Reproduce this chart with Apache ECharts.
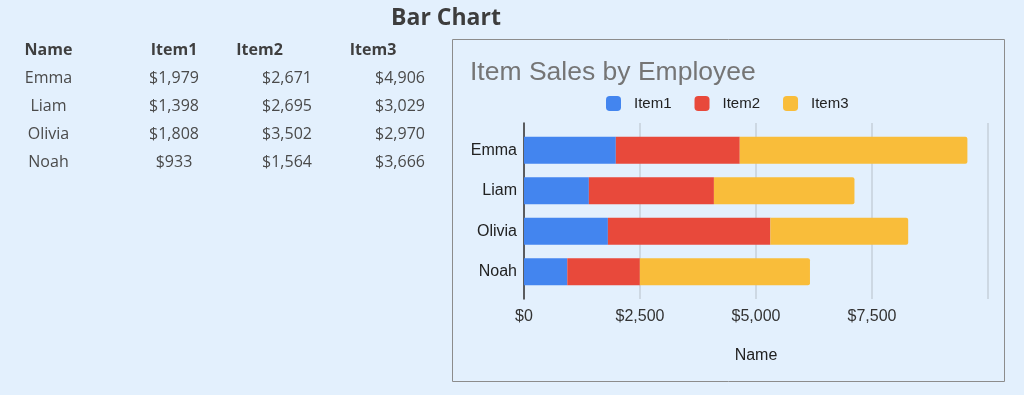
<!DOCTYPE html>
<html>
<head>
<meta charset="utf-8">
<script src="https://cdn.jsdelivr.net/npm/echarts@6/dist/echarts.min.js"></script>
<style>
html,body{margin:0;padding:0;background:#e3f0fd;}
#main{width:1024px;height:395px;}
</style>
</head>
<body>
<div id="main"></div>
<script>
// ---- data ----
const pageTitle = 'Bar Chart';
const chartTitle = 'Item Sales by Employee';
const categories = ['Emma', 'Liam', 'Olivia', 'Noah'];
const seriesNames = ['Item1', 'Item2', 'Item3'];
const item1 = [1979, 1398, 1808, 933];
const item2 = [2671, 2695, 3502, 1564];
const item3 = [4906, 3029, 2970, 3666];
const tableHeaders = ['Name', 'Item1', 'Item2', 'Item3'];
const axisTitle = 'Name';
const xMin = 0, xMax = 10000, xStep = 2500;

// ---- styles ----
const colors = ['#4385ef', '#e8493b', '#f9bd3a'];
const fmt = v => '$' + Number(v).toLocaleString('en-US');

const headerX = [48.5, 174, 259.5, 373];
const valueX = [48.5, 174, 287, 400];
const headerY = 50;
const rowY0 = 78.8, rowStep = 28;

const graphics = [];
graphics.push({
  type: 'text',
  style: { text: pageTitle, x: 446, y: 18.5, fill: '#3d3d3d',
    font: 'bold 23px "Open Sans"', align: 'center', verticalAlign: 'middle',
    textAlign: 'center', textVerticalAlign: 'middle' }
});
tableHeaders.forEach((h, i) => {
  graphics.push({
    type: 'text',
    style: { text: h, x: headerX[i], y: headerY, fill: '#3f3f3f',
      font: 'bold 16px "Open Sans"', align: 'center', verticalAlign: 'middle',
      textAlign: 'center', textVerticalAlign: 'middle' }
  });
});
const cols = [categories, item1.map(fmt), item2.map(fmt), item3.map(fmt)];
categories.forEach((c, r) => {
  cols.forEach((col, i) => {
    graphics.push({
      type: 'text',
      style: { text: col[r], x: valueX[i], y: rowY0 + r * rowStep, fill: '#4a4a4a',
        font: '16px "Open Sans"', align: 'center', verticalAlign: 'middle',
        textAlign: 'center', textVerticalAlign: 'middle' }
    });
  });
});
graphics.push({
  type: 'rect',
  shape: { x: 452.5, y: 39.5, width: 552, height: 342 },
  style: { fill: 'none', stroke: '#8c8c8c', lineWidth: 1 },
  z: 0
});

const chart = echarts.init(document.getElementById('main'), null, { renderer: 'canvas' });
const seriesData = [item1, item2, item3];
chart.setOption({
  backgroundColor: '#e3f0fd',
  animation: false,
  title: {
    text: chartTitle, left: 470, top: 59, padding: 0,
    textStyle: { fontFamily: 'Liberation Sans, Arial', fontSize: 26.5, fontWeight: 'normal', color: '#757575' }
  },
  legend: {
    data: seriesNames, left: 606, top: 96, padding: 0,
    itemWidth: 15, itemHeight: 15, itemGap: 23, icon: 'roundRect',
    textStyle: { fontFamily: 'Liberation Sans, Arial', fontSize: 15, color: '#222', padding: [0, 0, 0, 8] }
  },
  graphic: graphics,
  grid: [
    { left: 524, right: 36, top: 123, bottom: 96 },
    { left: 524, right: 36, top: 130, bottom: 103 }
  ],
  xAxis: [
    {
      gridIndex: 0, type: 'value', min: xMin, max: xMax, interval: xStep,
      axisLine: { show: false }, axisTick: { show: false },
      splitLine: { show: true, lineStyle: { color: '#c6d0da', width: 1.5 } },
      axisLabel: {
        margin: 10, fontFamily: 'Liberation Sans, Arial', fontSize: 16, color: '#333',
        formatter: v => v >= xMax ? '' : fmt(v)
      },
      name: axisTitle, nameLocation: 'middle', nameGap: 49,
      nameTextStyle: { fontFamily: 'Liberation Sans, Arial', fontSize: 16, color: '#222' }
    },
    { gridIndex: 1, type: 'value', min: xMin, max: xMax, show: false }
  ],
  yAxis: [
    {
      gridIndex: 0, type: 'category', data: categories, inverse: true,
      axisLine: { show: true, lineStyle: { color: '#333', width: 1.5 } },
      axisTick: { show: false }, axisLabel: { show: false }
    },
    {
      gridIndex: 1, type: 'category', data: categories, inverse: true,
      axisLine: { show: false }, axisTick: { show: false },
      axisLabel: { margin: 7, fontFamily: 'Liberation Sans, Arial', fontSize: 16, color: '#222' }
    }
  ],
  series: seriesNames.map((n, i) => ({
    name: n, type: 'bar', stack: 'total', xAxisIndex: 1, yAxisIndex: 1,
    barWidth: 27, data: seriesData[i],
    itemStyle: { color: colors[i], borderRadius: i === 2 ? [0, 2, 2, 0] : 0 },
    z: 3
  }))
});
</script>
</body>
</html>
